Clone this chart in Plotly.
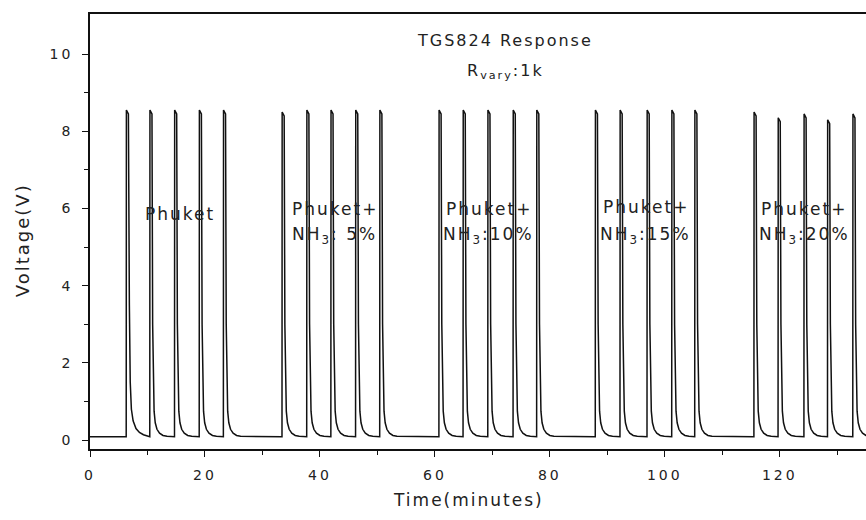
import plotly.graph_objects as go

# ---- data ----
baseline = 0.09
onsets = [6.3, 10.4, 14.7, 19.0, 23.2,
          33.4, 37.7, 41.9, 46.2, 50.4,
          60.7, 64.9, 69.2, 73.6, 77.7,
          87.9, 92.2, 96.9, 101.2, 105.2,
          115.5, 119.7, 124.2, 128.3, 132.7]
peaks = [8.55, 8.55, 8.55, 8.55, 8.55,
         8.5, 8.55, 8.55, 8.55, 8.55,
         8.55, 8.55, 8.55, 8.55, 8.55,
         8.55, 8.55, 8.55, 8.55, 8.55,
         8.5, 8.35, 8.45, 8.3, 8.45]
# spike shape after the peak (minutes after onset, volts)
tail_offsets = [0.5, 0.6, 0.75, 0.95, 1.25, 1.7, 2.3, 3.0]
tail_values = [3.0, 1.3, 0.75, 0.45, 0.28, 0.18, 0.12, 0.10]
slow_tail_offsets = [0.55, 0.7, 0.9, 1.2, 1.7, 2.3, 3.0, 3.7]
slow_tail_values = [3.5, 1.5, 0.8, 0.5, 0.3, 0.2, 0.14, 0.12]
peak_width = 0.38
peak_drop = [0.0, 0.1]

group_labels_top = ["Phuket", "Phuket+", "Phuket+", "Phuket+", "Phuket+"]
group_labels_bottom = ["", "NH<sub>3</sub>: 5%", "NH<sub>3</sub>:10%",
                       "NH<sub>3</sub>:15%", "NH<sub>3</sub>:20%"]
label_x = [15.7, 42.6, 69.4, 96.7, 124.3]
label_y_top = [5.85, 6.0, 6.0, 6.05, 6.0]
label_y_bottom = 5.3

x_ticks = [0, 20, 40, 60, 80, 100, 120]
y_ticks = [0, 2, 4, 6, 8, 10]

# ---- build the trace ----
xs, ys = [0.0], [baseline]
for i, (t, p) in enumerate(zip(onsets, peaks)):
    offs, vals = (slow_tail_offsets, slow_tail_values) if i == 0 else (tail_offsets, tail_values)
    xs += [t, t + 0.03, t + peak_width]
    ys += [baseline, p - peak_drop[0], p - peak_drop[1]]
    for o, v in zip(offs, vals):
        xs.append(t + o)
        ys.append(v)
xs.append(135)
ys.append(baseline)

fig = go.Figure()
fig.add_trace(go.Scatter(x=xs, y=ys, mode="lines",
                         line=dict(color="#111111", width=1.5),
                         hoverinfo="skip", showlegend=False))

font_family = "DejaVu Sans"
txt_color = "#222222"

ann = []
ann.append(dict(x=72.2, y=10.36, text="TGS824 Response", xref="x", yref="y",
                showarrow=False, font=dict(family=font_family, size=16, color=txt_color)))
ann.append(dict(x=72.2, y=9.55, text="R<sub>vary</sub>:1k", xref="x", yref="y",
                showarrow=False, font=dict(family=font_family, size=16, color=txt_color)))
for lx, ly, t1, t2 in zip(label_x, label_y_top, group_labels_top, group_labels_bottom):
    ann.append(dict(x=lx, y=ly, text=t1, xref="x", yref="y", showarrow=False,
                    font=dict(family=font_family, size=17, color=txt_color)))
    if t2:
        ann.append(dict(x=lx, y=label_y_bottom, text=t2, xref="x", yref="y", showarrow=False,
                        font=dict(family=font_family, size=17, color=txt_color)))

ann.append(dict(x=(468 - 90) / 776, y=-0.117, xref="paper", yref="paper",
                xanchor="center", yanchor="middle",
                text="Time(minutes)", showarrow=False,
                font=dict(family=font_family, size=17, color=txt_color)))
ann.append(dict(x=(22 - 90) / 776, y=0.48, xref="paper", yref="paper",
                xanchor="center", yanchor="middle",
                text="Voltage(V)", showarrow=False, textangle=-90,
                font=dict(family=font_family, size=18, color=txt_color)))

fig.update_layout(
    width=866, height=520,
    margin=dict(l=90, r=0, t=14, b=71),
    paper_bgcolor="white", plot_bgcolor="white",
    annotations=ann,
    xaxis=dict(range=[0, 135], tickvals=x_ticks, ticktext=[str(v) for v in x_ticks],
               showline=True, linecolor="#111111", linewidth=1.5, mirror=True,
               ticks="outside", ticklen=6, tickwidth=1.2, tickcolor="#111111",
               minor=dict(tickvals=[10, 30, 50, 70, 90, 110, 130], ticks="outside",
                          ticklen=4, tickwidth=1.2, tickcolor="#111111"),
               showgrid=False, zeroline=False, ticklabelstandoff=6,
               tickfont=dict(family=font_family, size=14, color=txt_color)),
    yaxis=dict(range=[-0.23, 11.04], tickvals=y_ticks, ticktext=[str(v) for v in y_ticks],
               showline=True, linecolor="#111111", linewidth=1.5,
               ticks="outside", ticklen=6, tickwidth=1.2, tickcolor="#111111",
               minor=dict(tickvals=[1, 3, 5, 7, 9], ticks="outside",
                          ticklen=4, tickwidth=1.2, tickcolor="#111111"),
               showgrid=False, zeroline=False, ticklabelstandoff=6,
               tickfont=dict(family=font_family, size=14, color=txt_color)),
)

spacing_js = """
var gd = document.getElementById('{plot_id}');
function applySpacing() {
  gd.querySelectorAll('.xtick text, .ytick text').forEach(function (t) {
    t.style.letterSpacing = '3px';
  });
  gd.querySelectorAll('.annotation-text').forEach(function (t) {
    t.style.letterSpacing = '2px';
  });
}
applySpacing();
gd.on('plotly_afterplot', applySpacing);
"""

fig.write_html("out.html", post_script=spacing_js)
